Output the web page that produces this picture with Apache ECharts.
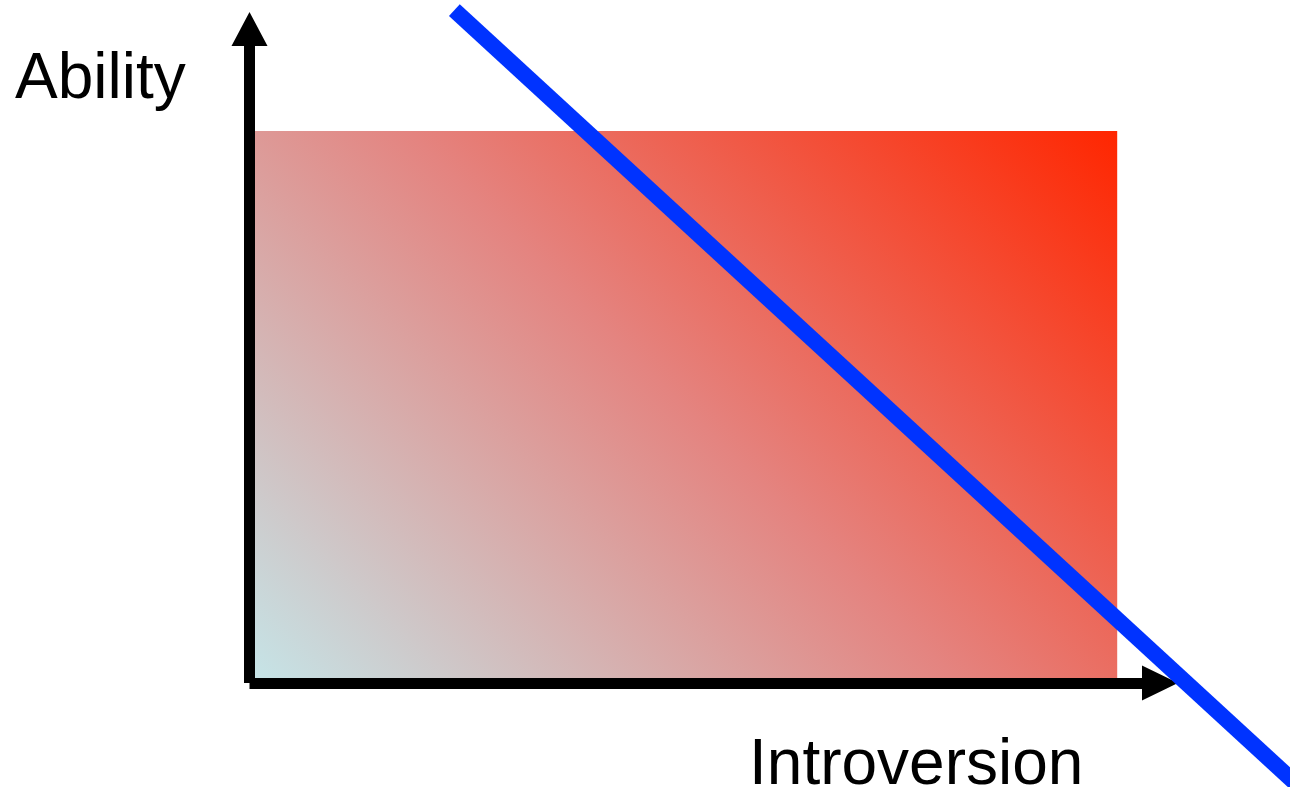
<!DOCTYPE html>
<html>
<head>
<meta charset="utf-8">
<script src="https://cdn.jsdelivr.net/npm/echarts@6/dist/echarts.min.js"></script>
<style>
html, body { margin: 0; padding: 0; background: #ffffff; }
#chart { width: 1290px; height: 787px; }
</style>
</head>
<body>
<div id="chart"></div>
<script>
// ---- data ----
const xRange = [0, 100];
const yRange = [0, 100];
const regionX = [0, 95.3];     // shaded region, x extent
const regionY = [0, 84.4];     // shaded region, y extent
const boundaryX = [22.5, 117.6];  // blue boundary line, x values
const boundaryY = [102.9, -18.8]; // blue boundary line, y values
const axisNames = ['Introversion', 'Ability'];

const chart = echarts.init(document.getElementById('chart'), null, { renderer: 'canvas' });

const gradientStops = [
  { offset: 0, color: 'rgb(197,229,232)' },
  { offset: 0.5, color: 'rgb(228,132,128)' },
  { offset: 1, color: 'rgb(255,38,0)' }
];

const axisCommon = {
  type: 'value',
  z: 3,
  axisLine: {
    show: true,
    symbol: ['none', 'triangle'],
    lineStyle: { color: '#000000', width: 11, cap: 'butt' }
  },
  axisTick: { show: false },
  axisLabel: { show: false },
  splitLine: { show: false }
};

chart.setOption({
  animation: false,
  backgroundColor: '#ffffff',
  grid: { left: 249.5, right: 130, top: 29, bottom: 104, containLabel: false },
  xAxis: Object.assign({}, axisCommon, {
    min: xRange[0], max: xRange[1],
    axisLine: Object.assign({}, axisCommon.axisLine, { symbolSize: [35, 36] })
  }),
  yAxis: Object.assign({}, axisCommon, {
    min: yRange[0], max: yRange[1],
    axisLine: Object.assign({}, axisCommon.axisLine, { symbolSize: [36, 34] })
  }),
  graphic: [
    {
      type: 'text', left: 15, top: 48, z: 10,
      style: { text: axisNames[1], fill: '#000000', font: '64px "Liberation Sans", Arial, sans-serif' }
    },
    {
      type: 'text', left: 749, top: 734, z: 10,
      style: { text: axisNames[0], fill: '#000000', font: '64px "Liberation Sans", Arial, sans-serif' }
    }
  ],
  series: [
    {
      type: 'custom',
      z: 1,
      silent: true,
      data: [[regionX[0], regionY[0], regionX[1], regionY[1]]],
      encode: { x: [0, 2], y: [1, 3] },
      renderItem: function (params, api) {
        const p0 = api.coord([api.value(0), api.value(1)]);
        const p1 = api.coord([api.value(2), api.value(3)]);
        const w = p1[0] - p0[0];
        const h = p0[1] - p1[1];
        const s = (w + h) / 2; // 45-degree gradient reaching the top-right corner
        const grad = new echarts.graphic.LinearGradient(
          p0[0], p0[1], p0[0] + s, p0[1] - s, gradientStops, true
        );
        return {
          type: 'rect',
          shape: { x: p0[0], y: p1[1], width: w, height: h },
          style: { fill: grad }
        };
      }
    },
    {
      type: 'custom',
      z: 5,
      silent: true,
      clip: false,
      data: [[boundaryX[0], boundaryY[0], boundaryX[1], boundaryY[1]]],
      encode: { x: [0, 2], y: [1, 3] },
      renderItem: function (params, api) {
        const a = api.coord([api.value(0), api.value(1)]);
        const b = api.coord([api.value(2), api.value(3)]);
        return {
          type: 'line',
          shape: { x1: a[0], y1: a[1], x2: b[0], y2: b[1] },
          style: { stroke: '#0033ff', lineWidth: 16, lineCap: 'butt' }
        };
      }
    }
  ]
});
</script>
</body>
</html>
